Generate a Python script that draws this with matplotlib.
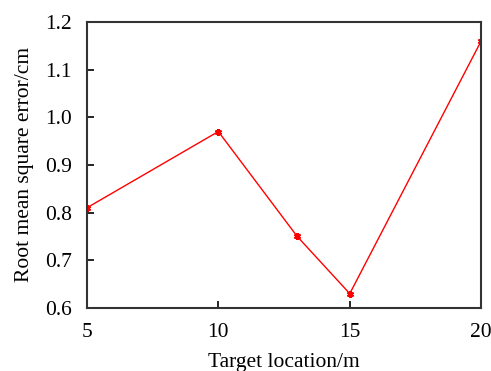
import matplotlib
matplotlib.use("Agg")
import matplotlib.pyplot as plt

# data
location = [5, 10, 13, 15, 20]
rmse = [0.81, 0.97, 0.75, 0.63, 1.16]

xticks = [5, 10, 15, 20]
yticks = [0.6, 0.7, 0.8, 0.9, 1.0, 1.1, 1.2]

plt.rcParams["font.family"] = ["Liberation Serif", "DejaVu Serif"]
plt.rcParams["font.size"] = 15.5

fig = plt.figure(figsize=(4.91, 3.71), dpi=100)
ax = fig.add_axes([0.177, 0.170, 0.803, 0.771])

ax.plot(location, rmse, color="red", linewidth=1.0,
        marker=(6, 2, 0), markersize=5, markeredgewidth=1.5)

ax.set_xlim(5, 20)
ax.set_ylim(0.6, 1.2)
ax.set_xticks(xticks)
ax.set_yticks(yticks)
ax.set_yticklabels([f"{v:.1f}" for v in yticks])
ax.tick_params(direction="in", length=5, width=1.2, pad=11)
for s in ax.spines.values():
    s.set_linewidth(1.5)
    s.set_color("#333333")

ax.set_xlabel("Target location/m", labelpad=8)
ax.set_ylabel("Root mean square error/cm", labelpad=8)

fig.savefig("out.png", dpi=100)
